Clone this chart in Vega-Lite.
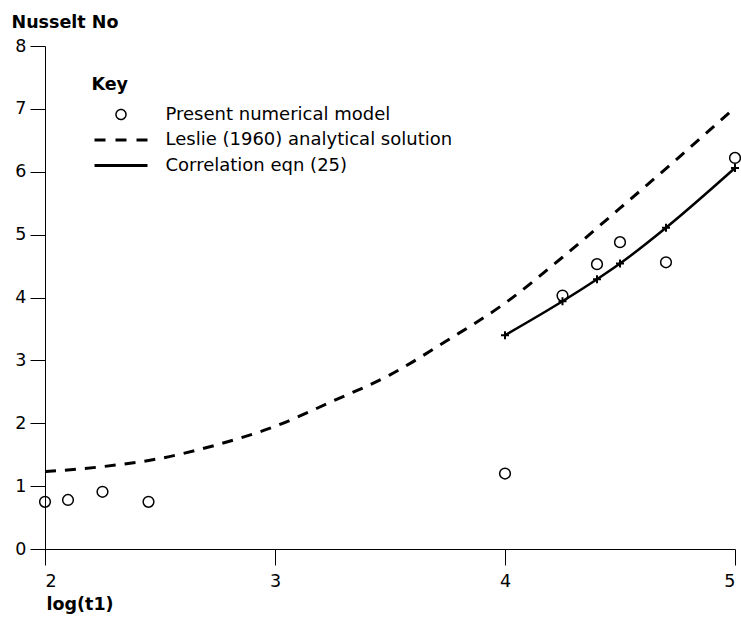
{
  "$schema": "https://vega.github.io/schema/vega-lite/v6.json",
  "width": 690,
  "height": 503,
  "autosize": {"type": "none"},
  "padding": {"left": 45, "top": 46, "right": 6, "bottom": 73},
  "background": "white",
  "config": {
    "view": {"stroke": null},
    "font": "DejaVu Sans",
    "axis": {
      "grid": false,
      "domainColor": "black",
      "domainWidth": 1,
      "tickColor": "black",
      "tickWidth": 1,
      "labelColor": "black",
      "labelFont": "DejaVu Sans",
      "labelFontSize": 17.5,
      "titleColor": "black",
      "titleFont": "DejaVu Sans",
      "titleFontSize": 17.5,
      "titleFontWeight": "bold"
    }
  },
  "data": {
    "values": [
      {"series": "Present numerical model", "x": 2.0, "y": 0.75},
      {"series": "Present numerical model", "x": 2.1, "y": 0.78},
      {"series": "Present numerical model", "x": 2.25, "y": 0.91},
      {"series": "Present numerical model", "x": 2.45, "y": 0.75},
      {"series": "Present numerical model", "x": 4.0, "y": 1.2},
      {"series": "Present numerical model", "x": 4.25, "y": 4.03},
      {"series": "Present numerical model", "x": 4.4, "y": 4.53},
      {"series": "Present numerical model", "x": 4.5, "y": 4.88},
      {"series": "Present numerical model", "x": 4.7, "y": 4.56},
      {"series": "Present numerical model", "x": 5.0, "y": 6.22},
      {"series": "Leslie (1960) analytical solution", "x": 2.0, "y": 1.23},
      {"series": "Leslie (1960) analytical solution", "x": 2.25, "y": 1.31},
      {"series": "Leslie (1960) analytical solution", "x": 2.5, "y": 1.44},
      {"series": "Leslie (1960) analytical solution", "x": 2.75, "y": 1.66},
      {"series": "Leslie (1960) analytical solution", "x": 3.0, "y": 1.95},
      {"series": "Leslie (1960) analytical solution", "x": 3.25, "y": 2.35},
      {"series": "Leslie (1960) analytical solution", "x": 3.5, "y": 2.77},
      {"series": "Leslie (1960) analytical solution", "x": 3.75, "y": 3.32},
      {"series": "Leslie (1960) analytical solution", "x": 4.0, "y": 3.91},
      {"series": "Leslie (1960) analytical solution", "x": 4.25, "y": 4.64},
      {"series": "Leslie (1960) analytical solution", "x": 4.5, "y": 5.42},
      {"series": "Leslie (1960) analytical solution", "x": 4.75, "y": 6.21},
      {"series": "Leslie (1960) analytical solution", "x": 5.0, "y": 7.02},
      {"series": "Correlation eqn (25)", "x": 4.0, "y": 3.4},
      {"series": "Correlation eqn (25)", "x": 4.25, "y": 3.94},
      {"series": "Correlation eqn (25)", "x": 4.4, "y": 4.29},
      {"series": "Correlation eqn (25)", "x": 4.5, "y": 4.54},
      {"series": "Correlation eqn (25)", "x": 4.7, "y": 5.11},
      {"series": "Correlation eqn (25)", "x": 5.0, "y": 6.06}
    ]
  },
  "encoding": {
    "x": {
      "field": "x",
      "type": "quantitative",
      "scale": {"domain": [2, 5], "nice": false, "zero": false},
      "axis": {
        "values": [2, 3, 4, 5],
        "format": "d",
        "title": "log(t1)",
        "titleX": 1,
        "titleY": 60,
        "titleAlign": "left",
        "titleAnchor": "start",
        "titleBaseline": "alphabetic",
        "tickSize": 16,
        "labelPadding": 7
      }
    },
    "y": {
      "field": "y",
      "type": "quantitative",
      "scale": {"domain": [0, 8], "nice": false},
      "axis": {
        "values": [0, 1, 2, 3, 4, 5, 6, 7, 8],
        "format": "d",
        "title": "Nusselt No",
        "titleAngle": 0,
        "titleX": -34,
        "titleY": -18.5,
        "titleAlign": "left",
        "titleAnchor": "start",
        "titleBaseline": "alphabetic",
        "tickSize": 15,
        "labelPadding": 4
      }
    }
  },
  "layer": [
    {
      "transform": [{"filter": "datum.series === 'Leslie (1960) analytical solution'"}],
      "mark": {"type": "line", "color": "black", "strokeWidth": 3, "strokeDash": [11, 9], "interpolate": "monotone"}
    },
    {
      "transform": [{"filter": "datum.series === 'Correlation eqn (25)'"}],
      "mark": {"type": "line", "color": "black", "strokeWidth": 2.5, "interpolate": "monotone"}
    },
    {
      "transform": [{"filter": "datum.series === 'Correlation eqn (25)'"}],
      "mark": {"type": "point", "shape": "M-1,0L1,0M0,-1L0,1", "size": 64, "strokeWidth": 2, "filled": false, "color": "black", "opacity": 1}
    },
    {
      "transform": [{"filter": "datum.series === 'Present numerical model'"}],
      "mark": {"type": "point", "size": 115, "strokeWidth": 1.5, "filled": false, "color": "black", "opacity": 1},
      "encoding": {
        "shape": {
          "field": "series",
          "type": "nominal",
          "scale": {
            "domain": ["Present numerical model", "Leslie (1960) analytical solution", "Correlation eqn (25)"],
            "range": ["circle", "M-5.3,0L5.3,0", "M-5.3,0L5.3,0"]
          },
          "legend": {
            "orient": "none",
            "legendX": 46.5,
            "legendY": 30,
            "title": "Key",
            "titleFont": "DejaVu Sans",
            "titleFontSize": 17.5,
            "titleFontWeight": "bold",
            "titleColor": "black",
            "titlePadding": 12,
            "labelFont": "DejaVu Sans",
            "labelFontSize": 18,
            "labelColor": "black",
            "labelLimit": 400,
            "labelOffset": 35.5,
            "symbolOffset": 20.5,
            "rowPadding": 7.5,
            "symbolSize": 100,
            "symbolStrokeColor": "black",
            "symbolFillColor": "transparent",
            "symbolDash": {"expr": "datum.value === 'Leslie (1960) analytical solution' ? [11, 10] : [1, 0]"},
            "symbolStrokeWidth": {"expr": "datum.value === 'Present numerical model' ? 1.5 : 3"},
            "padding": 0
          }
        }
      }
    }
  ]
}
